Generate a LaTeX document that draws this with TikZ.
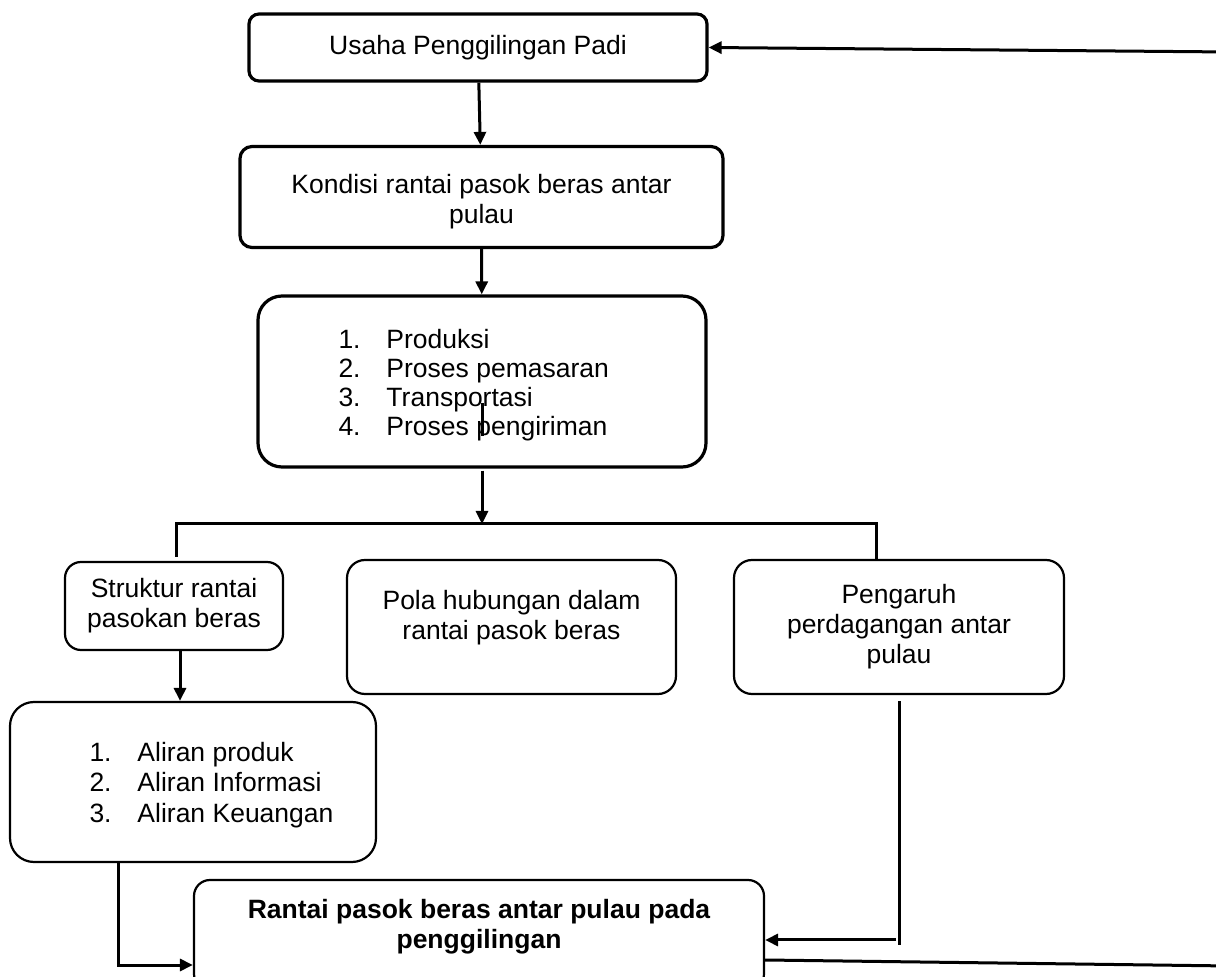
\documentclass[tikz,border=0pt]{standalone}
\usepackage{fontspec}
\setmainfont{Liberation Sans}
\usetikzlibrary{arrows.meta}

\begin{document}
\begin{tikzpicture}[x=0.5pt,y=-0.5pt,-{Triangle[length=6.5pt,width=6pt]},line width=1.5pt]
   \clip (0,0) rectangle (1216,977);
   \fontsize{13.25}{15}\selectfont
   \tikzstyle{main}=[rectangle, rounded corners=5pt, draw=black, line width=1.6pt, align=center, inner sep=0pt]
   \tikzstyle{sub}=[main, line width=1.1pt, rounded corners=8pt]
   \tikzstyle{list}=[anchor=west, align=left, inner sep=0pt, font=\fontsize{13.25}{14.6}\selectfont]
   \node[main, minimum width=229pt, minimum height=33.5pt] (usaha) at (478,47.5) {Usaha Penggilingan Padi};
   \node[main, minimum width=241.5pt, minimum height=50.5pt, rounded corners=6pt] (kondisi) at (481.5,197) {\rule{0pt}{14pt}Kondisi rantai pasok beras antar\\pulau};
   \node[main, minimum width=224pt, minimum height=85.5pt, rounded corners=12pt] (proses) at (482,381.5) {};
   \node[list] (proses-list) at (337,385) {\makebox[24pt][l]{1.}Produksi\\ \makebox[24pt][l]{2.}Proses pemasaran\\ \makebox[24pt][l]{3.}Transportasi\\ \makebox[24pt][l]{4.}Proses pengiriman};
   \node[sub, minimum width=109pt, minimum height=44pt] (struktur) at (174,606) {Struktur rantai\\pasokan beras};
   \node[sub, minimum width=164.5pt, minimum height=67pt, rounded corners=9pt] (pola) at (511.5,627) {};
   \node[align=center, inner sep=0pt] (pola-text) at (511.5,618) {Pola hubungan dalam\\rantai pasok beras};
   \node[sub, minimum width=165pt, minimum height=67pt, rounded corners=9pt] (pengaruh) at (899,627) {Pengaruh\\perdagangan antar\\pulau};
   \node[sub, minimum width=183pt, minimum height=80pt, rounded corners=12pt] (aliran) at (193,782) {};
   \node[list, font=\fontsize{13.25}{15.2}\selectfont] (aliran-list) at (88,785) {\makebox[24pt][l]{1.}Aliran produk\\ \makebox[24pt][l]{2.}Aliran Informasi\\ \makebox[24pt][l]{3.}Aliran Keuangan};
   \node[sub, minimum width=285pt, minimum height=55pt] (rantai) at (479,935) {};
   \node[align=center, inner sep=0pt, font=\bfseries] (rantai-text) at (479,927) {Rantai pasok beras antar pulau pada\\penggilingan};
   % down the middle
   \path (usaha) edge (kondisi);
   \path (kondisi) edge (proses);
   \coordinate (split) at (482,524);
   \coordinate (s1) at (482,403);
   \coordinate (s2) at (482,436);
   \draw[-] (s1) -- (s2);
   \draw ([yshift=-1pt]proses.south) -- (split);
   \coordinate (left) at (176,557);
   \coordinate (right) at (876,560);
   \draw[-] (left) |- (split) -| (right);
   \draw ([xshift=3pt]struktur.south) -- ([xshift=3pt]struktur.south |- aliran.north);
   \draw ([xshift=-37.5pt]aliran.south) |- ([yshift=-15pt]rantai.west);
   % right side back to the top
   \coordinate (pe) at (899,945);
   \coordinate (pjoin) at (896,940);
   \draw[-] ([yshift=-3pt]pengaruh.south) -- (pe);
   \draw (pjoin) -- ([yshift=-2.5pt]rantai.east);
   \coordinate (loopb) at (1230,966);
   \coordinate (loopt) at (1230,52);
   \draw[-] ([yshift=-12.5pt]rantai.east) -- (loopb);
   \draw (loopt) -- (usaha.east);
\end{tikzpicture}
\end{document}
